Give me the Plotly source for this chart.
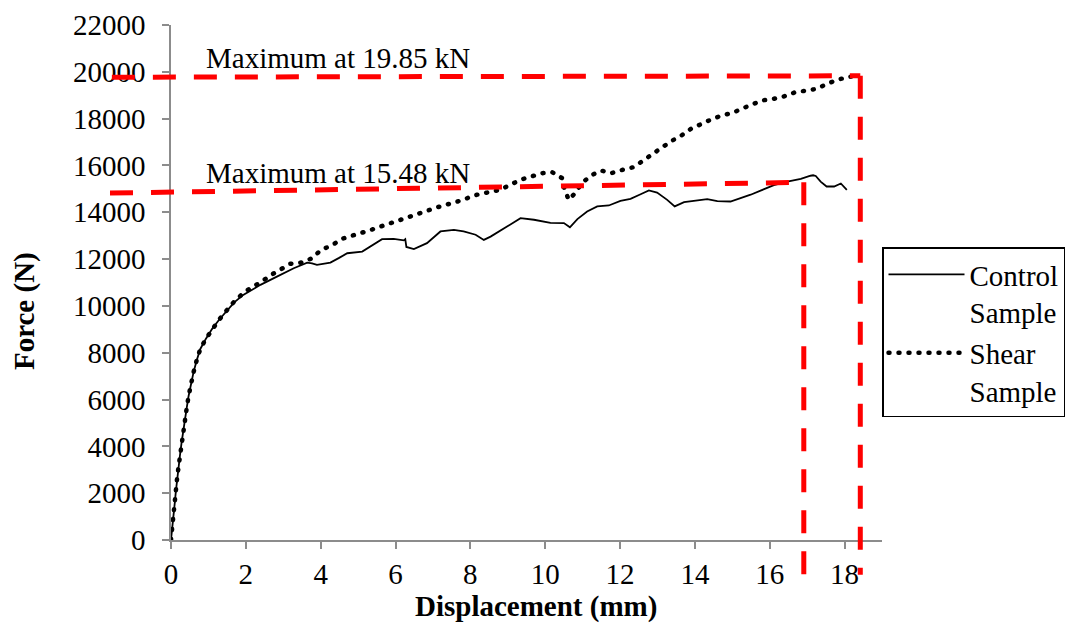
import plotly.graph_objects as go

# ---------------- data ----------------
control_disp = [0, 0.03, 0.07, 0.1, 0.13, 0.16, 0.2, 0.24, 0.28, 0.32, 0.36, 0.42, 0.47, 0.53,
                0.6, 0.68, 0.78, 0.93, 1.1, 1.28, 1.48, 1.69, 1.93, 2.39, 2.83, 3.28, 3.64,
                3.77, 3.9, 4.26, 4.48, 4.71, 5.11, 5.33, 5.64, 5.95, 6.22, 6.26, 6.29, 6.49,
                6.84, 7.2, 7.56, 7.82, 8.14, 8.36, 8.54, 8.98, 9.34, 9.7, 10.14, 10.5, 10.66,
                10.86, 11.12, 11.39, 11.7, 12.01, 12.28, 12.55, 12.77, 12.99, 13.26, 13.46,
                13.71, 13.97, 14.33, 14.6, 14.95, 15.22, 15.49, 15.85, 16.11, 16.47, 16.83,
                17.09, 17.16, 17.23, 17.36, 17.52, 17.72, 17.9, 18.06]
control_force = [0, 570, 1040, 1570, 2080, 2590, 3110, 3620, 4130, 4630, 5130, 5640, 6150, 6650,
                 7150, 7640, 8150, 8590, 9020, 9400, 9790, 10150, 10470, 10900, 11250, 11610, 11850,
                 11820, 11750, 11850, 12040, 12250, 12320, 12540, 12850, 12860, 12800, 12850, 12520, 12430,
                 12680, 13180, 13250, 13180, 13040, 12820, 12960, 13390, 13750, 13680, 13550, 13540, 13360,
                 13710, 14030, 14250, 14290, 14490, 14570, 14770, 14930, 14840, 14530, 14250,
                 14430, 14490, 14560, 14480, 14460, 14600, 14750, 14990, 15160, 15310, 15430,
                 15560, 15580, 15550, 15310, 15100, 15100, 15230, 14960]

shear_disp = [0, 0.03, 0.07, 0.1, 0.13, 0.16, 0.2, 0.24, 0.28, 0.32, 0.36, 0.42, 0.47, 0.53,
              0.6, 0.68, 0.78, 0.93, 1.1, 1.28, 1.48, 1.69, 1.93, 2.13, 2.39, 2.65, 2.91, 3.19,
              3.48, 3.75, 4.02, 4.29, 4.58, 4.87, 5.1, 5.35, 5.6, 6.11, 6.62, 7.13, 7.66, 8.18,
              8.8, 9.34, 9.92, 10.19, 10.45, 10.52, 10.63, 10.81, 10.99, 11.26, 11.5, 11.76,
              12.06, 12.37, 12.62, 12.86, 13.13, 13.38, 13.64, 13.9, 14.18, 14.47, 14.73, 15.0,
              15.25, 15.53, 15.8, 16.11, 16.38, 16.67, 16.96, 17.25, 17.52, 17.81, 18.1, 18.39]
shear_force = [0, 570, 1040, 1570, 2080, 2590, 3110, 3620, 4130, 4630, 5130, 5640, 6150, 6650,
               7150, 7640, 8150, 8590, 9020, 9400, 9790, 10190, 10540, 10770, 11000, 11300, 11540, 11800,
               11850, 12020, 12400, 12580, 12870, 13000, 13150, 13250, 13390, 13680, 13960, 14220, 14460, 14750,
               14960, 15390, 15670, 15710, 15460, 14960, 14530, 14840, 15270, 15600, 15780, 15670,
               15810, 15930, 16210, 16500, 16780, 17050, 17280, 17570, 17790, 17990, 18140, 18240,
               18420, 18590, 18780, 18850, 18950, 19120, 19200, 19270, 19480, 19660, 19780, 19850]

series_names = ["Control<br>Sample", "Shear<br>Sample"]

x_ticks = list(range(0, 19, 2))
y_ticks = list(range(0, 22001, 2000))

# maximum guide lines (mm, N)
guide_labels = ["Maximum at 19.85 kN", "Maximum at 15.48 kN"]
guide_x_left = [-1.58, -1.63]
guide_y_left = [19770, 14820]
guide_x_right = [18.42, 16.91]
guide_y_right = [19830, 15280]
guide_y_bottom = [-1480, -1480]
label_x = [0.87, 0.87]
label_y = [20575, 15670]

X_RANGE = [0, 19]
Y_RANGE = [0, 22000]

FONT = "Liberation Serif, Times New Roman, serif"
AXIS_GREY = "#8c8c8c"
DOT_DASH = "1px,9px"

fig = go.Figure()
fig.add_trace(go.Scatter(x=control_disp, y=control_force, mode="lines", name=series_names[0],
                         line=dict(color="black", width=1.8)))
fig.add_trace(go.Scatter(x=shear_disp, y=shear_force, mode="lines", name=series_names[1],
                         line=dict(color="black", width=4.5, dash=DOT_DASH)))


def fx(v):
    return (v - X_RANGE[0]) / (X_RANGE[1] - X_RANGE[0])


def fy(v):
    return (v - Y_RANGE[0]) / (Y_RANGE[1] - Y_RANGE[0])


red = dict(color="#FF0000", width=5, dash="23px,18px")
for i in range(len(guide_labels)):
    fig.add_shape(type="line", xref="x domain", yref="y domain",
                  x0=fx(guide_x_left[i]), y0=fy(guide_y_left[i]),
                  x1=fx(guide_x_right[i]), y1=fy(guide_y_right[i]), line=red, layer="above")
    fig.add_shape(type="line", xref="x domain", yref="y domain",
                  x0=fx(guide_x_right[i]), y0=fy(guide_y_right[i]),
                  x1=fx(guide_x_right[i]), y1=fy(guide_y_bottom[i]), line=red, layer="above")
    fig.add_annotation(x=label_x[i], y=label_y[i], xref="x", yref="y", text=guide_labels[i],
                       showarrow=False, xanchor="left", yanchor="middle",
                       font=dict(family=FONT, size=29, color="black"))

# axis titles
fig.add_annotation(x=0.514, y=-0.130, xref="paper", yref="paper", text="<b>Displacement (mm)</b>",
                   showarrow=False, xanchor="center", yanchor="middle",
                   font=dict(family=FONT, size=29, color="black"))
fig.add_annotation(x=-0.205, y=0.445, xref="paper", yref="paper", text="<b>Force (N)</b>",
                   showarrow=False, xanchor="center", yanchor="middle", textangle=-90,
                   font=dict(family=FONT, size=29, color="black"))

fig.update_layout(
    width=1068, height=623,
    margin=dict(l=171, r=186, t=25, b=83, autoexpand=False),
    plot_bgcolor="white", paper_bgcolor="white",
    font=dict(family=FONT, size=29, color="black"),
    showlegend=True,
    legend=dict(x=1.0, xanchor="left", y=0.568, yanchor="top",
                bordercolor="black", borderwidth=1.5, bgcolor="white",
                itemwidth=76, valign="top", font=dict(family=FONT, size=29, color="black")),
    xaxis=dict(range=X_RANGE, tickvals=x_ticks, ticks="outside", ticklen=7, tickwidth=1.5,
               tickcolor=AXIS_GREY, showline=True, linecolor=AXIS_GREY, linewidth=1.5,
               showgrid=False, zeroline=False, tickfont=dict(family=FONT, size=29)),
    yaxis=dict(range=Y_RANGE, tickvals=y_ticks, tickformat="d", ticks="outside", ticklen=7,
               tickwidth=1.5, tickcolor=AXIS_GREY, showline=True, linecolor=AXIS_GREY,
               linewidth=1.5, showgrid=False, zeroline=False, ticklabelstandoff=11,
               tickfont=dict(family=FONT, size=29)),
)

post = """
document.body.style.margin = '0';
document.body.style.padding = '0';
document.body.style.overflow = 'hidden';
var gd = document.getElementById('{plot_id}');
gd.querySelectorAll('path').forEach(function(p){
  var d = (p.style.strokeDasharray || '').replace(/\\s/g, '');
  if (d === '1px,9px') { p.style.strokeLinecap = 'round'; }
});
"""

fig.write_html("out.html", post_script=post, config={"displayModeBar": False})
